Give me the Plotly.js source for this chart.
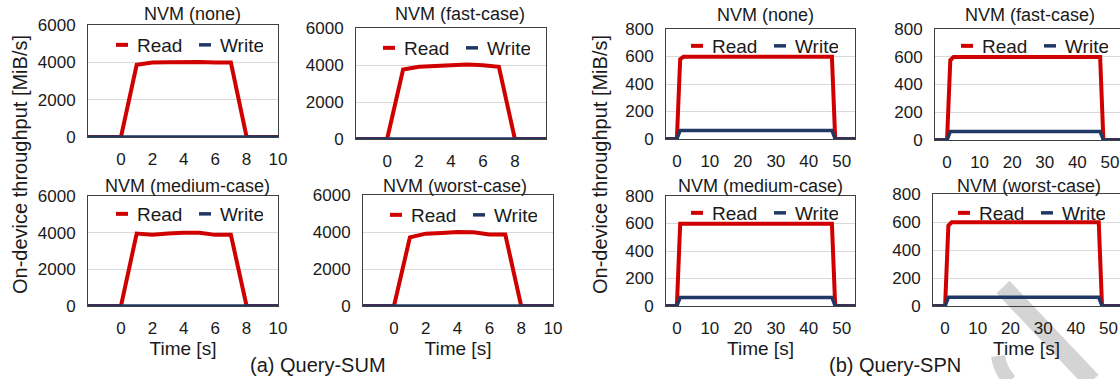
<!DOCTYPE html>
<html>
<head>
<meta charset="utf-8">
<script src="https://cdn.plot.ly/plotly-3.0.1.min.js"></script>
<style>
  html, body { margin: 0; padding: 0; background: #ffffff; }
  #chart { width: 1120px; height: 379px; }
</style>
</head>
<body>
<div id="chart"></div>
<script>
// ---------- Data ----------
const subplotTitles = ["NVM (none)", "NVM (fast-case)", "NVM (medium-case)", "NVM (worst-case)"];
const seriesNames = ["Read", "Write"];
const groupCaptions = ["(a) Query-SUM", "(b) Query-SPN"];
const yAxisTitle = "On-device throughput [MiB/s]";
const xAxisTitle = "Time [s]";

// (a) Query-SUM
const timeSum = [-3, -2, -1, 0, 1, 2, 3, 4, 5, 6, 7, 8, 9, 10];
const readSumNone   = [0, 0, 0, 0, 3870, 3990, 4010, 4030, 4020, 3990, 3990, 0, 0, 0];
const readSumFast   = [0, 0, 0, 0, 3760, 3900, 3950, 4000, 4030, 3990, 3900, 0, 0, 0];
const readSumMedium = [0, 0, 0, 0, 3950, 3890, 3950, 4000, 3990, 3880, 3880, 0, 0, 0];
const readSumWorst  = [0, 0, 0, 0, 3710, 3910, 3950, 4000, 3990, 3860, 3860, 0, 0, 0];
const writeSumNone   = [0, 0, 0, 0, 0, 0, 0, 0, 0, 0, 0, 0, 0, 0];
const writeSumFast   = [0, 0, 0, 0, 0, 0, 0, 0, 0, 0, 0, 0, 0, 0];
const writeSumMedium = [0, 0, 0, 0, 0, 0, 0, 0, 0, 0, 0, 0, 0, 0];
const writeSumWorst  = [0, 0, 0, 0, 0, 0, 0, 0, 0, 0, 0, 0, 0, 0];
const sumXTicks = [0, 2, 4, 6, 8, 10];
const sumYTicks = [0, 2000, 4000, 6000];

// (b) Query-SPN
const timeSpn = [-4, 0, 1, 2, 10, 20, 30, 40, 47, 48, 55];
const readSpnNone   = [0, 0, 580, 598, 598, 598, 598, 598, 598, 0, 0];
const readSpnFast   = [0, 0, 575, 598, 598, 598, 598, 598, 598, 0, 0];
const readSpnMedium = [0, 0, 598, 598, 598, 598, 598, 598, 598, 0, 0];
const readSpnWorst  = [0, 0, 575, 598, 598, 598, 598, 598, 598, 0, 0];
const writeSpnNone   = [0, 0, 62, 62, 62, 62, 62, 62, 62, 0, 0];
const writeSpnFast   = [0, 0, 62, 62, 62, 62, 62, 62, 62, 0, 0];
const writeSpnMedium = [0, 0, 62, 62, 62, 62, 62, 62, 62, 0, 0];
const writeSpnWorst  = [0, 0, 62, 62, 62, 62, 62, 62, 62, 0, 0];
const spnXTicks = [0, 10, 20, 30, 40, 50];
const spnYTicks = [0, 200, 400, 600, 800];

// ---------- Styling / layout ----------
const W = 1120, H = 379;
const FONT = "Liberation Sans, Arial, Helvetica, sans-serif";
const TXT = "#1a1a1a";
const RED = "#d10000";
const NAVY = "#1f3864";

const panels = [
  {box:[88,278,25,137],  xr:[-2.1,10],    yr:[0,6000], t:timeSum, r:readSumNone,   w:writeSumNone,   xt:sumXTicks, yt:sumYTicks, title:subplotTitles[0], tpos:[192,14],  lpos:[190,45],  bottom:false, cut:false},
  {box:[356,546,28,139], xr:[-1.95,9.95], yr:[0,6000], t:timeSum, r:readSumFast,   w:writeSumFast,   xt:sumXTicks, yt:sumYTicks, title:subplotTitles[1], tpos:[460,14],  lpos:[457,48],  bottom:false, cut:false},
  {box:[88,278,196,306], xr:[-2.1,10],    yr:[0,6000], t:timeSum, r:readSumMedium, w:writeSumMedium, xt:sumXTicks, yt:sumYTicks, title:subplotTitles[2], tpos:[187,186], lpos:[190,214], bottom:true,  cut:false},
  {box:[363,553,195,306],xr:[-1.95,10],   yr:[0,6000], t:timeSum, r:readSumWorst,  w:writeSumWorst,  xt:sumXTicks, yt:sumYTicks, title:subplotTitles[3], tpos:[455,186], lpos:[464,215], bottom:true,  cut:false},
  {box:[666,855,29,139], xr:[-3.3,54],    yr:[0,800],  t:timeSpn, r:readSpnNone,   w:writeSpnNone,   xt:spnXTicks, yt:spnYTicks, title:subplotTitles[0], tpos:[765,15],  lpos:[765,46],  bottom:false, cut:false},
  {box:[935,1120,29,140],xr:[-3.7,53.1],  yr:[0,800],  t:timeSpn, r:readSpnFast,   w:writeSpnFast,   xt:spnXTicks, yt:spnYTicks, title:subplotTitles[1], tpos:[1030,15], lpos:[1035,46], bottom:false, cut:true},
  {box:[666,855,196,306],xr:[-3.3,54],    yr:[0,800],  t:timeSpn, r:readSpnMedium, w:writeSpnMedium, xt:spnXTicks, yt:spnYTicks, title:subplotTitles[2], tpos:[760,186], lpos:[765,213], bottom:true,  cut:false},
  {box:[933,1120,194,306],xr:[-3.7,53.5], yr:[0,800],  t:timeSpn, r:readSpnWorst,  w:writeSpnWorst,  xt:spnXTicks, yt:spnYTicks, title:subplotTitles[3], tpos:[1029,186],lpos:[1032,213], bottom:true,  cut:true}
];

const px = x => x / W;
const py = y => 1 - y / H;

const data = [];
const layout = {
  width: W, height: H,
  margin: {l:0, r:0, t:0, b:0, pad:0},
  paper_bgcolor: "#ffffff",
  plot_bgcolor: "rgba(0,0,0,0)",
  font: {family: FONT, size: 17, color: TXT},
  showlegend: true,
  annotations: [],
  shapes: []
};

panels.forEach((p, i) => {
  const n = i + 1;
  const xa = n === 1 ? "x" : "x" + n;
  const ya = n === 1 ? "y" : "y" + n;
  const lg = n === 1 ? "legend" : "legend" + n;
  data.push({
    type: "scatter", mode: "lines", x: p.t, y: p.r, name: seriesNames[0],
    xaxis: xa, yaxis: ya, legend: lg,
    line: {color: RED, width: 4}, hoverinfo: "x+y"
  });
  data.push({
    type: "scatter", mode: "lines", x: p.t, y: p.w, name: seriesNames[1],
    xaxis: xa, yaxis: ya, legend: lg,
    line: {color: NAVY, width: 3.5}, hoverinfo: "x+y"
  });
  const xk = n === 1 ? "xaxis" : "xaxis" + n;
  const yk = n === 1 ? "yaxis" : "yaxis" + n;
  layout[xk] = {
    domain: [px(p.box[0]), px(p.box[1])],
    anchor: ya, range: p.xr, tickmode: "array", tickvals: p.xt,
    showgrid: false, zeroline: false,
    showline: true, mirror: true, linecolor: "#404040", linewidth: 1,
    ticks: "", ticklabelstandoff: 7,
    tickfont: {family: FONT, size: 17, color: TXT},
    title: p.bottom ? {text: xAxisTitle, font: {family: FONT, size: 19, color: TXT}, standoff: 0} : {text: ""}
  };
  layout[yk] = {
    domain: [py(p.box[3]), py(p.box[2])],
    anchor: xa, range: p.yr, tickmode: "array", tickvals: p.yt,
    showgrid: true, gridcolor: "#d9d9d9", gridwidth: 1, zeroline: false,
    showline: true, mirror: p.cut ? false : true, linecolor: "#404040", linewidth: 1,
    ticks: "", ticklabelstandoff: 8,
    tickfont: {family: FONT, size: 17, color: TXT}
  };
  layout[lg] = {
    orientation: "h", x: px(p.lpos[0] - 10), y: py(p.lpos[1]),
    xanchor: "center", yanchor: "middle", xref: "paper", yref: "paper",
    bgcolor: "rgba(0,0,0,0)", borderwidth: 0,
    font: {family: FONT, size: 19, color: TXT},
    entrywidth: 38, entrywidthmode: "pixels"
  };
  layout.annotations.push({
    text: p.title, xref: "paper", yref: "paper",
    x: px(p.tpos[0]), y: py(p.tpos[1]), xanchor: "center", yanchor: "middle",
    showarrow: false, font: {family: FONT, size: 18, color: TXT}
  });
});

// shared y-axis titles
[[20, 165], [600, 165]].forEach(pos => {
  layout.annotations.push({
    text: yAxisTitle, xref: "paper", yref: "paper",
    x: px(pos[0]), y: py(pos[1]), xanchor: "center", yanchor: "middle",
    textangle: -90, showarrow: false, font: {family: FONT, size: 20, color: TXT}
  });
});
// group captions
[[318, 365, groupCaptions[0]], [895, 365, groupCaptions[1]]].forEach(c => {
  layout.annotations.push({
    text: c[2], xref: "paper", yref: "paper",
    x: px(c[0]), y: py(c[1]), xanchor: "center", yanchor: "middle",
    showarrow: false, font: {family: FONT, size: 20, color: TXT}
  });
});

// faint watermark stroke in the lower-right corner
layout.shapes.push({
  type: "line", xref: "paper", yref: "paper", layer: "below",
  x0: px(1003), y0: py(287), x1: px(1092), y1: py(381),
  line: {color: "#d4d4d4", width: 18}
});
layout.shapes.push({
  type: "path", xref: "paper", yref: "paper", layer: "below",
  path: "M " + px(998) + "," + py(356) + " Q " + px(1000) + "," + py(370) + " " + px(1010) + "," + py(381),
  line: {color: "#d4d4d4", width: 14}
});

Plotly.newPlot("chart", data, layout, {displayModeBar: false, staticPlot: true}).then(gd => {
  // short legend dashes, as in the original figure
  gd.querySelectorAll("g.legendlines path.js-line").forEach(p => p.setAttribute("d", "M19,0h12"));
});
</script>
</body>
</html>
